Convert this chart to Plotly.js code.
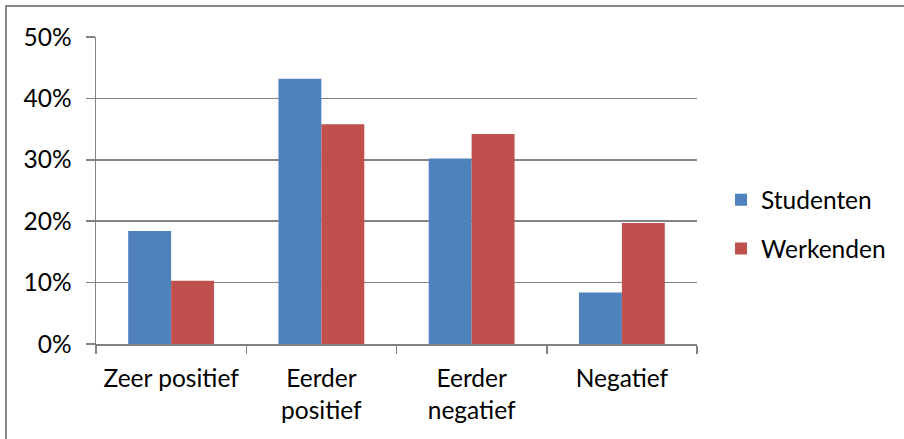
<!DOCTYPE html>
<html>
<head>
<meta charset="utf-8">
<script src="https://cdn.plot.ly/plotly-3.0.1.min.js"></script>
<style>
  html, body { margin: 0; padding: 0; background: #ffffff; overflow: hidden; }
  #wrap { position: relative; width: 904px; height: 439px; }
  #chart { position: absolute; left: 0; top: 0; width: 904px; height: 439px; }
  /* chart-area frame: only its top and left edges fall inside the window */
  #frame { position: absolute; left: 5px; top: 5px; width: 1000px; height: 1000px;
           border: 2px solid #888888; pointer-events: none; }
</style>
</head>
<body>
<div id="wrap">
  <div id="chart"></div>
  <div id="frame"></div>
</div>
<script>
// Answer categories (line breaks as shown on the axis)
const categories = ["Zeer positief", "Eerder<br>positief", "Eerder<br>negatief", "Negatief"];

// Share of respondents per answer
const studenten = [0.184, 0.432, 0.302, 0.084];
const werkenden = [0.103, 0.358, 0.342, 0.197];

const seriesNames = ["Studenten", "Werkenden"];
const seriesColors = ["#4F81BD", "#C0504D"];

const yTicks = [0, 0.1, 0.2, 0.3, 0.4, 0.5];
const yTickText = ["0%", "10%", "20%", "30%", "40%", "50%"];

const FONT = "Lato, 'Open Sans', sans-serif";
const FS = 24.5;
const GRID = "#828282";

const traces = [studenten, werkenden].map((vals, i) => ({
  type: "bar",
  name: seriesNames[i],
  legendgroup: seriesNames[i],
  x: categories,
  y: vals,
  marker: { color: seriesColors[i] },
  hoverinfo: "skip"
}));

const layout = {
  width: 904,
  height: 439,
  margin: { l: 96, r: 207, t: 37, b: 95 },
  paper_bgcolor: "#ffffff",
  plot_bgcolor: "#ffffff",
  font: { family: FONT, size: FS, color: "#000000" },
  barmode: "group",
  bargap: 0.4286,
  bargroupgap: 0,
  showlegend: true,
  legend: {
    x: 1.04, xanchor: "left",
    y: 0.39, yanchor: "middle",
    traceorder: "grouped",
    tracegroupgap: 14,
    font: { family: FONT, size: FS, color: "#000000" },
    bgcolor: "rgba(0,0,0,0)"
  },
  xaxis: {
    type: "category",
    showline: true,
    linecolor: GRID,
    linewidth: 1.5,
    ticks: "outside",
    tickson: "boundaries",
    ticklen: 8,
    tickcolor: GRID,
    tickwidth: 1.5,
    showgrid: false,
    tickfont: { family: FONT, size: FS, color: "#000000" },
    ticklabelstandoff: 12,
    fixedrange: true
  },
  yaxis: {
    range: [0, 0.5],
    tickvals: yTicks,
    ticktext: yTickText,
    showline: true,
    linecolor: GRID,
    linewidth: 1.5,
    ticks: "outside",
    ticklen: 9,
    tickcolor: GRID,
    tickwidth: 1.5,
    showgrid: true,
    gridcolor: GRID,
    gridwidth: 1.5,
    zeroline: false,
    tickfont: { family: FONT, size: FS, color: "#000000" },
    ticklabelstandoff: 9,
    fixedrange: true
  }
};

Plotly.newPlot("chart", traces, layout, { displayModeBar: false, staticPlot: true });
</script>
</body>
</html>
